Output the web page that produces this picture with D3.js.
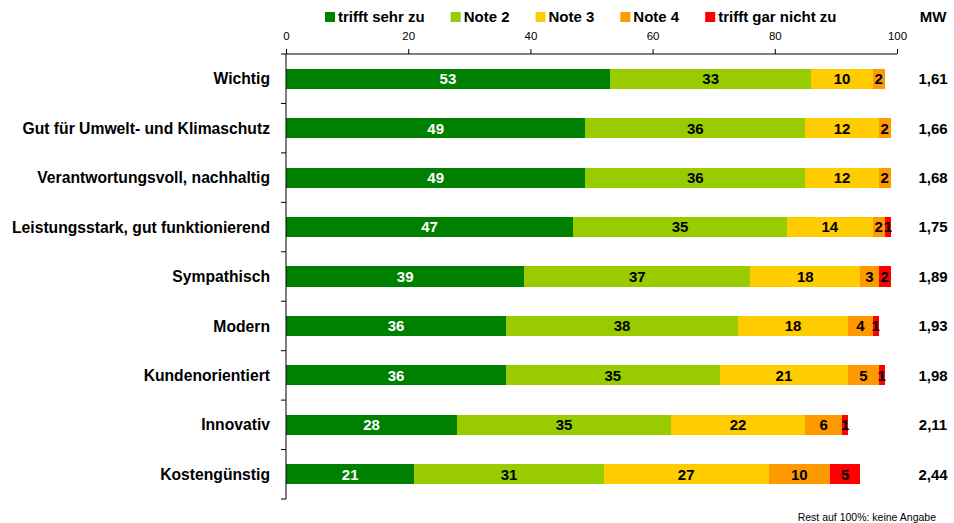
<!DOCTYPE html>
<html>
<head>
<meta charset="utf-8">
<script src="https://cdn.jsdelivr.net/npm/d3@7"></script>
<style>
  html, body { margin: 0; padding: 0; background: #fff; }
  svg text { font-family: "Liberation Sans", Arial, sans-serif; }
</style>
</head>
<body>
<svg id="chart" width="954" height="523"></svg>
<script>
const categories = [
  "Wichtig",
  "Gut für Umwelt- und Klimaschutz",
  "Verantwortungsvoll, nachhaltig",
  "Leistungsstark, gut funktionierend",
  "Sympathisch",
  "Modern",
  "Kundenorientiert",
  "Innovativ",
  "Kostengünstig"
];
const seriesNames = ["trifft sehr zu", "Note 2", "Note 3", "Note 4", "trifft gar nicht zu"];
const s1 = [53, 49, 49, 47, 39, 36, 36, 28, 21];
const s2 = [33, 36, 36, 35, 37, 38, 35, 35, 31];
const s3 = [10, 12, 12, 14, 18, 18, 21, 22, 27];
const s4 = [2, 2, 2, 2, 3, 4, 5, 6, 10];
const s5 = [0, 0, 0, 1, 2, 1, 1, 1, 5];
const mw = ["1,61", "1,66", "1,68", "1,75", "1,89", "1,93", "1,98", "2,11", "2,44"];
const xTicks = [0, 20, 40, 60, 80, 100];
const colors = ["#008000", "#99cc00", "#ffcc00", "#ff9900", "#ff0000"];
const footnote = "Rest auf 100%: keine Angabe";

const svg = d3.select("#chart");
const axisTop = 54, axisBottom = 499;
const x = d3.scaleLinear().domain([0, 100]).range([286, 897]);
const pad = 0.595;
const y = d3.scaleBand().domain(categories).range([axisTop, axisBottom])
  .paddingInner(pad).paddingOuter(pad / 2);
const yEdge = d3.scaleLinear().domain([0, categories.length]).range([axisTop, axisBottom]);

const allSeries = [s1, s2, s3, s4, s5];
const rows = categories.map((c, i) => {
  const r = { cat: c };
  seriesNames.forEach((n, k) => r[n] = allSeries[k][i]);
  return r;
});
const stacked = d3.stack().keys(seriesNames)(rows);

// bars
const layers = svg.append("g").selectAll("g").data(stacked).join("g")
  .attr("fill", (d, k) => colors[k]);
layers.selectAll("rect").data(d => d).join("rect")
  .attr("x", d => x(d[0]))
  .attr("width", d => x(d[1]) - x(d[0]))
  .attr("y", d => y(d.data.cat))
  .attr("height", y.bandwidth())
  .attr("shape-rendering", "crispEdges");

// bar labels
stacked.forEach((layer, k) => {
  svg.append("g").selectAll("text").data(layer.filter(d => d[1] - d[0] > 0)).join("text")
    .attr("x", d => x((d[0] + d[1]) / 2))
    .attr("y", d => y(d.data.cat) + y.bandwidth() / 2)
    .attr("dy", "0.36em")
    .attr("text-anchor", "middle")
    .attr("font-size", "15px")
    .attr("font-weight", "bold")
    .attr("fill", k === 0 ? "#ffffff" : "#000000")
    .text(d => d[1] - d[0]);
});

// top axis
const gx = svg.append("g").attr("transform", `translate(0,${axisTop})`)
  .call(d3.axisTop(x).tickValues(xTicks).tickSize(5).tickPadding(9).tickFormat(d3.format("d")));
gx.select(".domain").attr("stroke", "#000").attr("d", `M${x(0)},0H${x(100)}`);
gx.selectAll(".tick line").attr("stroke", "#000");
gx.selectAll(".tick text").attr("font-size", "11.5px").attr("fill", "#000")
  .style("font-family", '"Liberation Sans", Arial, sans-serif');

// left axis line and ticks at band edges
const gy = svg.append("g");
gy.append("line").attr("x1", x(0)).attr("x2", x(0)).attr("y1", axisTop).attr("y2", axisBottom)
  .attr("stroke", "#000");
gy.selectAll("line.t").data(d3.range(categories.length + 1)).join("line")
  .attr("class", "t")
  .attr("x1", x(0) - 5).attr("x2", x(0))
  .attr("y1", d => yEdge(d)).attr("y2", d => yEdge(d))
  .attr("stroke", "#000");

// category labels
svg.append("g").selectAll("text").data(categories).join("text")
  .attr("x", 270)
  .attr("y", d => y(d) + y.bandwidth() / 2)
  .attr("dy", "0.36em")
  .attr("text-anchor", "end")
  .attr("font-size", "15.7px")
  .attr("font-weight", "bold")
  .attr("fill", "#000")
  .text(d => d);

// MW values
svg.append("g").selectAll("text").data(categories).join("text")
  .attr("x", 933)
  .attr("y", d => y(d) + y.bandwidth() / 2)
  .attr("dy", "0.36em")
  .attr("text-anchor", "middle")
  .attr("font-size", "15px")
  .attr("font-weight", "bold")
  .attr("fill", "#000")
  .text((d, i) => mw[i]);

svg.append("text").attr("x", 933).attr("y", 17).attr("dy", "0.36em")
  .attr("text-anchor", "middle").attr("font-size", "15px").attr("font-weight", "bold")
  .text("MW");

// legend
let lx = 325;
seriesNames.forEach((n, k) => {
  const g = svg.append("g");
  g.append("rect").attr("x", lx).attr("y", 12).attr("width", 10).attr("height", 10).attr("fill", colors[k]);
  const t = g.append("text").attr("x", lx + 13).attr("y", 17).attr("dy", "0.36em")
    .attr("font-size", "15px").attr("font-weight", "bold").attr("fill", "#000").text(n);
  lx += 13 + t.node().getComputedTextLength() + 26;
});

// footnote
svg.append("text").attr("x", 936).attr("y", 517).attr("dy", "0.36em")
  .attr("text-anchor", "end").attr("font-size", "10.5px").attr("fill", "#000")
  .text(footnote);
</script>
</body>
</html>
